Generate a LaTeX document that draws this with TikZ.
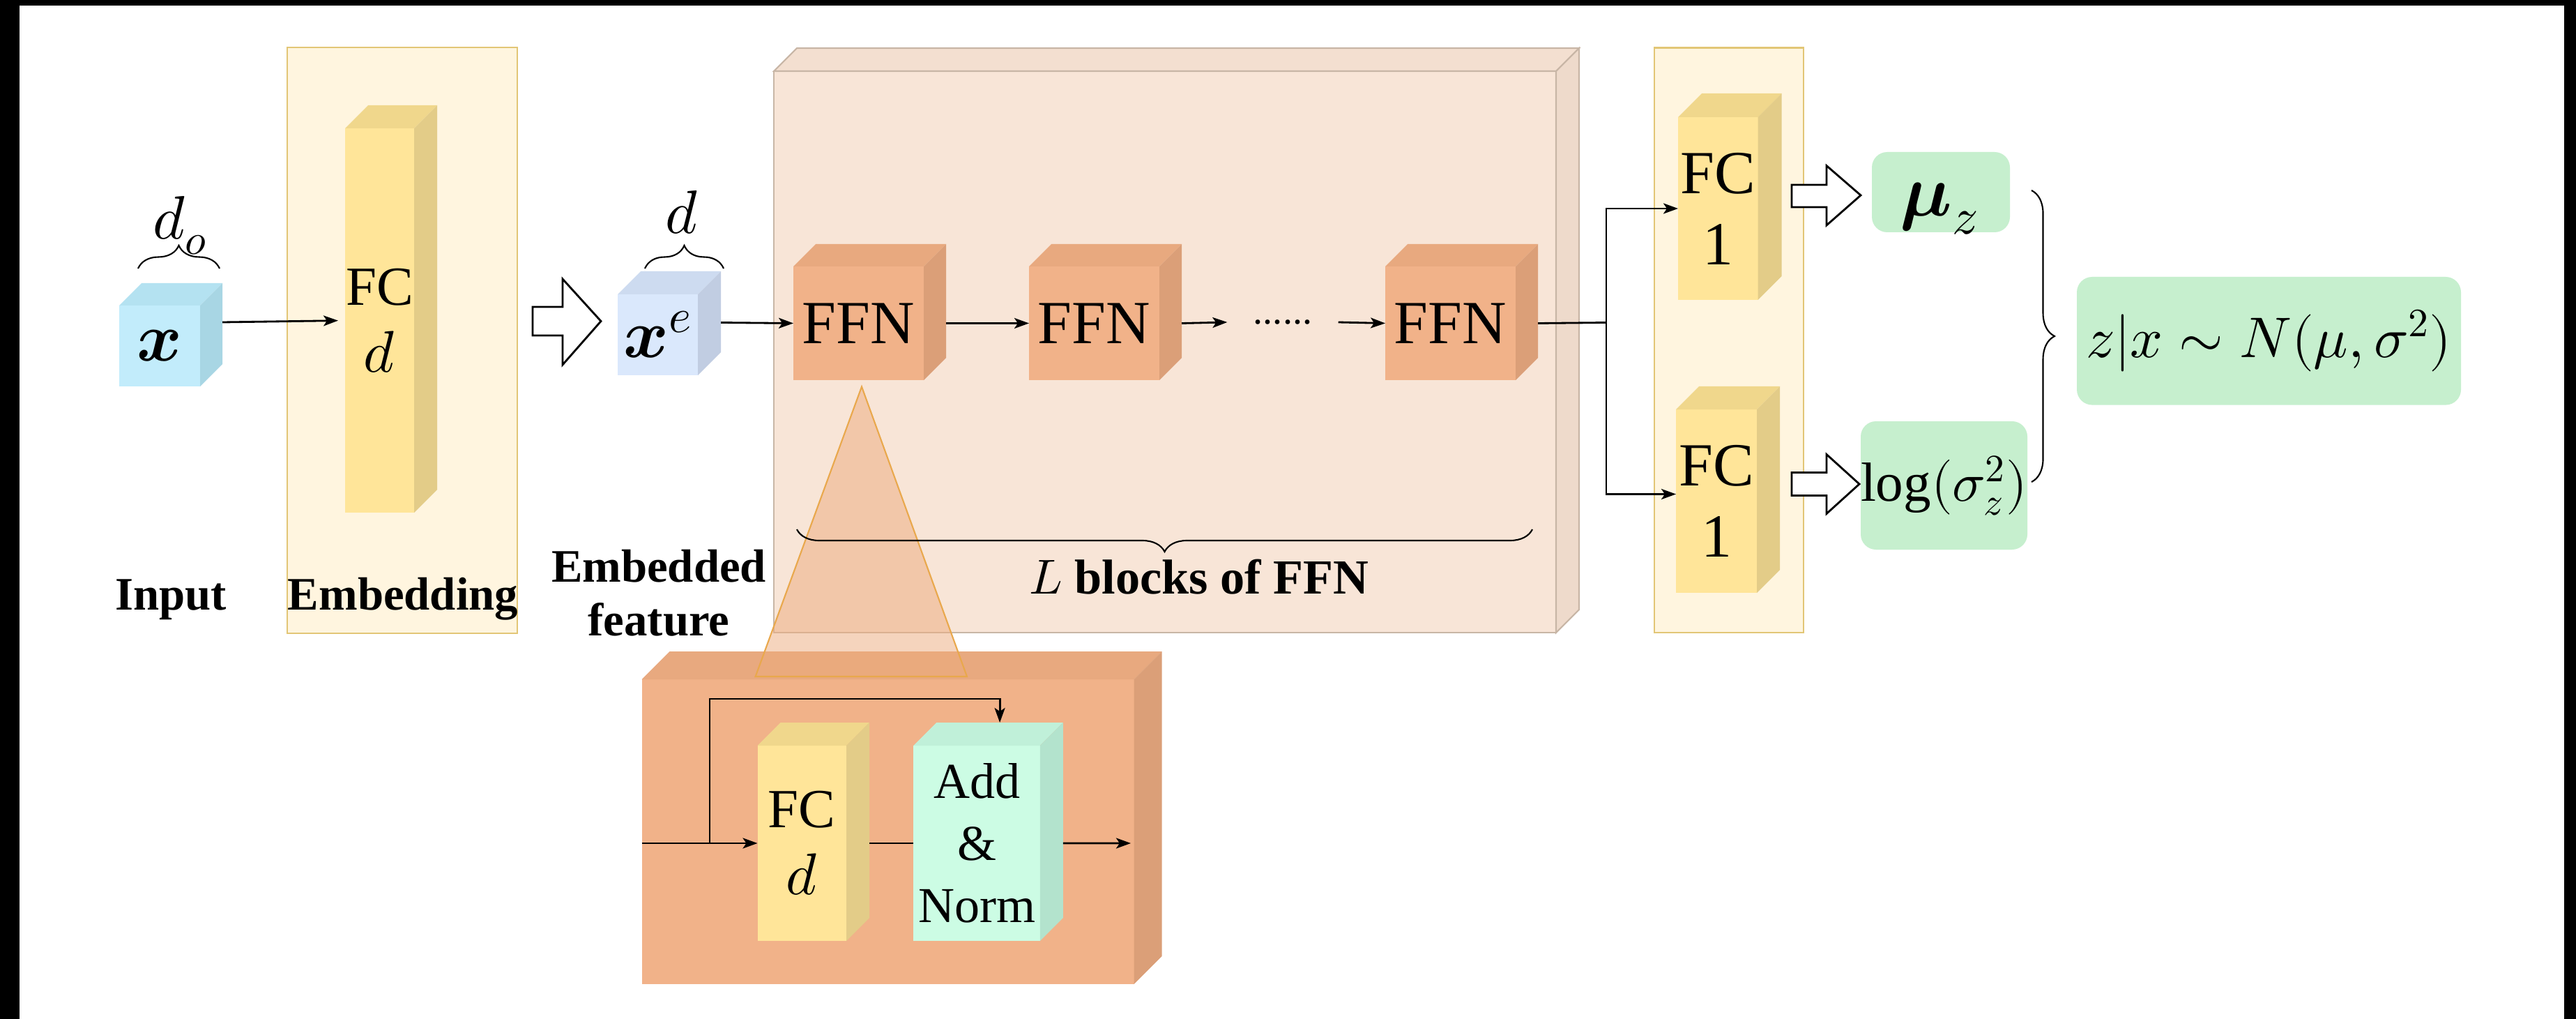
\documentclass[tikz,border=0pt]{standalone}
\usepackage{amsmath}
\usepackage{fontspec}
\usepackage{unicode-math}
\setmainfont{Liberation Serif}
\usetikzlibrary{arrows.meta,decorations.pathreplacing}

\definecolor{xfront}{HTML}{C2ECFB}
\definecolor{xtop}{HTML}{B4E2F1}
\definecolor{xside}{HTML}{A8D6E4}
\definecolor{xefront}{HTML}{DAE8FC}
\definecolor{xetop}{HTML}{CDDBF0}
\definecolor{xeside}{HTML}{C1CDE2}
\definecolor{fcfront}{HTML}{FFE599}
\definecolor{fctop}{HTML}{F0D78C}
\definecolor{fcside}{HTML}{E3CC88}
\definecolor{panelfill}{HTML}{FFF5DF}
\definecolor{panelline}{HTML}{E2C676}
\definecolor{lfront}{HTML}{F8E5D7}
\definecolor{ltop}{HTML}{F3DFD0}
\definecolor{lside}{HTML}{EEDACB}
\definecolor{lline}{HTML}{C8B6A6}
\definecolor{ffnfront}{HTML}{F1B289}
\definecolor{ffntop}{HTML}{E8A97F}
\definecolor{ffnside}{HTML}{DB9F78}
\definecolor{addfront}{HTML}{CCFCE4}
\definecolor{addtopc}{HTML}{C0F0D9}
\definecolor{addside}{HTML}{B3E3CD}
\definecolor{greenfill}{HTML}{C6EFCE}
\definecolor{trifill}{HTML}{EDAB7D}
\definecolor{triline}{HTML}{E9A84C}

% top and side faces of a box node: node, depth, top style, side style
\newcommand{\sidefaces}[4]{%
  \path[#3] (#1.north west) -- ++(#2,#2) -- ([shift={(#2,#2)}]#1.north east) -- (#1.north east) -- cycle;
  \path[#4] (#1.north east) -- ++(#2,#2) -- ([shift={(#2,#2)}]#1.south east) -- (#1.south east) -- cycle;
}
% the d of an FC layer, a little larger than its caption
\newcommand{\fcdim}{{\fontsize{24}{27.4}\selectfont$d$}}

\tikzset{
  front/.style={inner sep=0pt, outer sep=0pt, anchor=north west, align=center,
    font=\fontsize{22.5}{27.4}\selectfont},
  conn/.style={line width=0.8pt, -{Stealth[length=0.21cm,width=0.15cm,inset=0.05cm]}},
  wire/.style={line width=0.8pt},
  hollow/.style={draw=black, fill=white, line width=0.8pt},
  panel/.style={draw=panelline, fill=panelfill, line width=0.6pt},
  lbl/.style={font=\fontsize{19}{22}\selectfont\bfseries, align=center, inner sep=0pt},
  rbox/.style={fill=greenfill, rounded corners=0.22cm, inner sep=0pt},
  brc/.style={decorate, decoration={brace, amplitude=#1}, line width=0.6pt},
  brc/.default=0.33cm,
}

\begin{document}
\begin{tikzpicture}
  \useasboundingbox (0,0) rectangle (36.95,-14.61);
  \fill[white] (0,0) rectangle (36.95,-14.61);

  % Panels
  \draw[panel] (4.12,-0.68) rectangle (7.42,-9.08);
  \draw[panel] (23.73,-0.685) rectangle (25.87,-9.07);

  % L blocks of FFN
  \node[front, draw=lline, fill=lfront, line width=0.6pt, minimum width=11.22cm, minimum height=8.05cm] (lbox) at (11.10,-1.02) {};
  \sidefaces{lbox}{0.33}{fill=ltop, draw=lline, line width=0.6pt}{fill=lside, draw=lline, line width=0.6pt}

  % FFN block in detail
  \node[front, fill=ffnfront, minimum width=7.06cm, minimum height=4.37cm] (ffnbig) at (9.206,-9.74) {};
  \sidefaces{ffnbig}{0.40}{fill=ffntop}{fill=ffnside}

  % zoom triangle
  \draw[fill=trifill, fill opacity=0.5, draw=triline, line width=0.6pt] (12.36,-5.545) -- (10.836,-9.70) -- (13.87,-9.70) -- cycle;

  % Input
  \node[front, fill=xfront, minimum width=1.16cm, minimum height=1.16cm, font=\fontsize{28}{32}\selectfont] (xin) at (1.71,-4.38) {$\symbfit{x}$};
  \sidefaces{xin}{0.32}{fill=xtop}{fill=xside}
  \draw[brc] (1.98,-3.85) -- (3.15,-3.85);
  \node[font=\fontsize{25}{30}\selectfont, anchor=base, inner sep=0pt] (dolbl) at (2.59,-3.43) {$d_o$};

  % Embedding
  \node[front, fill=fcfront, minimum width=0.99cm, minimum height=5.51cm] (fcemb) at (4.95,-1.84) {FC\\\fcdim};
  \sidefaces{fcemb}{0.33}{fill=fctop}{fill=fcside}

  % Embedded feature
  \node[front, fill=xefront, minimum width=1.15cm, minimum height=1.16cm, font=\fontsize{28}{32}\selectfont] (xe) at (8.86,-4.22) {$\symbfit{x}^e$};
  \sidefaces{xe}{0.33}{fill=xetop}{fill=xeside}
  \draw[brc] (9.25,-3.85) -- (10.38,-3.85);
  \node[font=\fontsize{25}{30}\selectfont, anchor=base, inner sep=0pt] (dlbl) at (9.78,-3.35) {$d$};

  % FFN chain
  \foreach \name/\px in {ffnA/11.38, ffnB/14.76, ffnC/19.87} {
    \node[front, fill=ffnfront, minimum width=1.87cm, minimum height=1.63cm, font=\fontsize{25}{30}\selectfont] (\name) at (\px,-3.82) {FFN};
    \sidefaces{\name}{0.32}{fill=ffntop}{fill=ffnside}
  }
  \node[font=\fontsize{16}{18}\selectfont, minimum width=1.58cm, inner sep=0pt] (dots) at (18.40,-4.62) {......};
  \draw[brc=0.32cm] (21.98,-7.59) -- (11.43,-7.59);
  \node[lbl, font=\fontsize{20}{24}\selectfont\bfseries, anchor=base] (llbl) at (17.20,-8.515) {$L$ blocks of FFN};

  % heads
  \node[front, fill=fcfront, minimum width=1.145cm, minimum height=2.62cm, font=\fontsize{25}{29}\selectfont] (fcmu) at (24.07,-1.68) {FC\\1};
  \sidefaces{fcmu}{0.34}{fill=fctop}{fill=fcside}
  \node[front, fill=fcfront, minimum width=1.16cm, minimum height=2.63cm, font=\fontsize{25}{29}\selectfont] (fcsig) at (24.04,-5.87) {FC\\1};
  \sidefaces{fcsig}{0.33}{fill=fctop}{fill=fcside}

  % outputs
  \node[rbox, minimum width=1.98cm, minimum height=1.15cm] (mubox) at (27.84,-2.755) {};
  \node[font=\fontsize{30}{36}\selectfont, inner sep=0pt] (mulbl) at (27.82,-2.99) {$\symbfit{\mu}_z$};
  \node[rbox, minimum width=2.33cm, minimum height=1.84cm, font=\fontsize{22.5}{27}\selectfont] (sigbox) at (27.885,-6.96) {$\log(\sigma_z^2)$};
  \node[rbox, minimum width=5.51cm, minimum height=1.836cm, font=\fontsize{23.4}{28}\selectfont] (dist) at (32.545,-4.888) {$z|x\sim N(\mu,\sigma^2)$};
  \draw[brc] (29.14,-2.73) -- (29.14,-6.91);

  % inner FFN block
  \node[front, fill=fcfront, minimum width=1.275cm, minimum height=2.80cm] (fcin) at (10.865,-10.69) {FC\\\fcdim};
  \sidefaces{fcin}{0.33}{fill=fctop}{fill=fcside}
  \node[front, fill=addfront, minimum width=1.814cm, minimum height=2.80cm, font=\fontsize{20.5}{25.3}\selectfont] (addn) at (13.104,-10.69) {Add\\\&\\Norm};
  \sidefaces{addn}{0.33}{fill=addtopc}{fill=addside}

  % labels
  \node[lbl, anchor=base] (inlbl) at (2.45,-8.74) {Input};
  \node[lbl, anchor=base] (emblbl) at (5.78,-8.74) {Embedding};
  \node[lbl] (eflbl) at (9.45,-8.50) {Embedded\\feature};

  % connectors
  \draw[conn, shorten >=0.1cm] ([shift={(0.32,0.34)}]xin.east) -- (fcemb.west);
  \draw[hollow] (7.64,-4.40) -- (8.07,-4.40) -- (8.07,-4.00) -- (8.62,-4.605) -- (8.07,-5.23) -- (8.07,-4.81) -- (7.64,-4.81) -- cycle;
  \draw[conn] ([shift={(0.33,0.175)}]xe.east) -- (ffnA.west);
  \draw[conn] ([xshift=0.32cm]ffnA.east) -- (ffnB.west);
  \draw[conn] ([xshift=0.32cm]ffnB.east) -- (dots.west);
  \draw[conn] (dots.east) -- (ffnC.west);
  \coordinate (split) at (23.04,-4.625);
  \draw[wire] ([xshift=0.32cm]ffnC.east) -- (split);
  \draw[conn] (split) |- (fcmu.west);
  \draw[conn] (split) |- ([yshift=0.1cm]fcsig.west);
  \draw[hollow] (25.70,-2.65) -- (26.20,-2.65) -- (26.20,-2.376) -- (26.69,-2.80) -- (26.20,-3.23) -- (26.20,-2.97) -- (25.70,-2.97) -- cycle;
  \draw[hollow] (25.70,-6.775) -- (26.20,-6.775) -- (26.20,-6.515) -- (26.67,-6.94) -- (26.20,-7.365) -- (26.20,-7.105) -- (25.70,-7.105) -- cycle;

  % inner connectors
  \coordinate (inp) at (ffnbig.west |- fcin.west);
  \coordinate (skip) at (10.18,-12.09);
  \coordinate (addin) at ([shift={(0.33,0.33)}]addn.north);
  \coordinate (outp) at (16.22,-12.09);
  \draw[conn] (inp) -- (fcin.west);
  \draw[conn] (skip) |- ([yshift=0.34cm]addin) -- (addin);
  \draw[wire] ([xshift=0.33cm]fcin.east) -- (addn.west);
  \draw[conn] ([xshift=0.33cm]addn.east) -- (outp);

  % frame
  \fill[black] (0,0) rectangle (0.28,-14.61);
  \fill[black] (0,0) rectangle (36.95,-0.08);
  \fill[black] (36.78,0) rectangle (36.95,-14.61);
\end{tikzpicture}
\end{document}
